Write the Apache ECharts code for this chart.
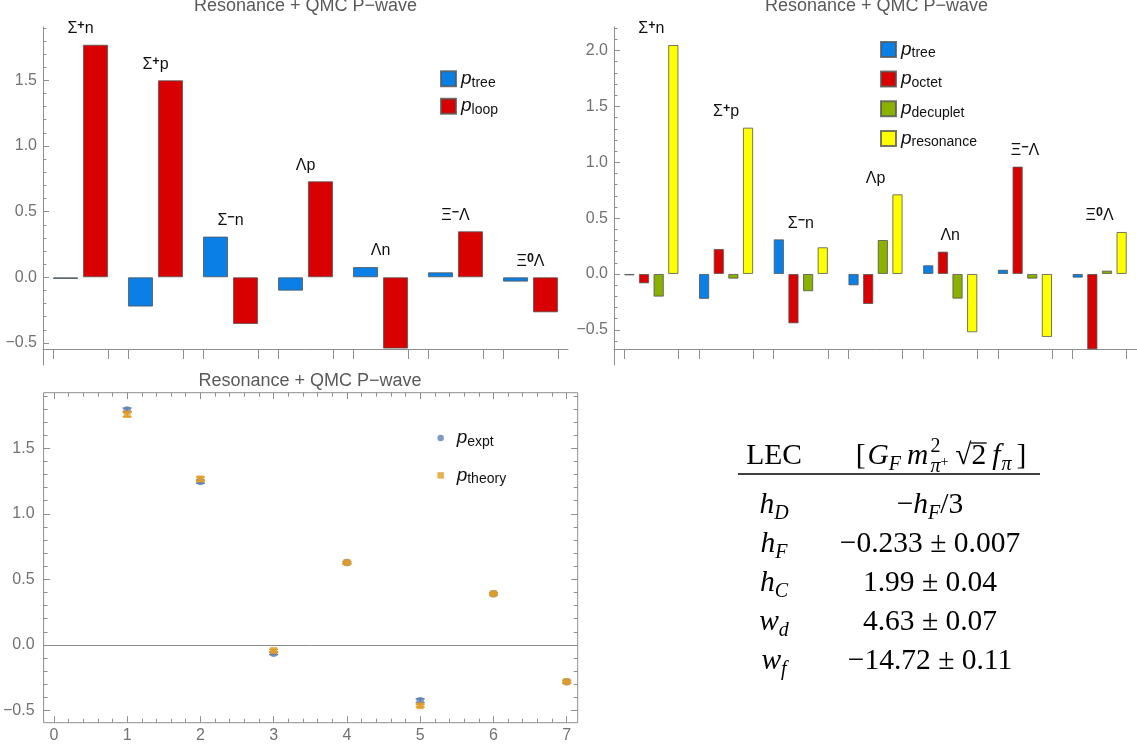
<!DOCTYPE html>
<html><head><meta charset="utf-8">
<script src="https://cdn.jsdelivr.net/npm/echarts@6/dist/echarts.min.js"></script>
<style>html,body{margin:0;padding:0;background:#fff}#c{width:1137px;height:751px}</style>
</head><body><div id="c"></div>
<script>
// ---------------- data ----------------
const categories = ['Σ+n', 'Σ+p', 'Σ−n', 'Λp', 'Λn', 'Ξ−Λ', 'Ξ0Λ'];
const categoryLabels = ['{m|Σ}{s|+}{m|n}', '{m|Σ}{s|+}{m|p}', '{m|Σ}{s|−}{m|n}', '{m|Λp}', '{m|Λn}', '{m|Ξ}{s|−}{m|Λ}', '{m|Ξ}{s|0}{m|Λ}'];
const pTree      = [-0.013, -0.223, 0.310, -0.102, 0.078, 0.038, -0.033];
const pLoop      = [1.771, 1.500, -0.356, 0.731, -0.543, 0.350, -0.267];
const pOctet     = [-0.084, 0.224, -0.442, -0.269, 0.200, 0.961, -0.675];
const pDecuplet  = [-0.203, -0.042, -0.155, 0.304, -0.221, -0.042, 0.030];
const pResonance = [2.050, 1.310, 0.239, 0.713, -0.522, -0.564, 0.376];
const decayIndex = [1, 2, 3, 4, 5, 6, 7];
const pExpt      = [1.792, 1.246, -0.064, 0.628, -0.425, 0.391, -0.280];
const pExptErr   = [0.015, 0.012, 0.010, 0.008, 0.015, 0.008, 0.010];
const pTheory    = [1.760, 1.266, -0.043, 0.628, -0.463, 0.391, -0.280];
const pTheoryErr = [0.020, 0.015, 0.010, 0.008, 0.010, 0.008, 0.008];
const yTicksA = [-0.5, 0, 0.5, 1, 1.5];
const yTicksB = [-0.5, 0, 0.5, 1, 1.5, 2];
const yTicksC = [-0.5, 0, 0.5, 1, 1.5];
const xTicksC = [0, 1, 2, 3, 4, 5, 6, 7];
const titleText = 'Resonance + QMC P−wave';
const lecHeader = ['LEC', '[G_F m_π]'];
const lecNames  = [['h', 'D'], ['h', 'F'], ['h', 'C'], ['w', 'd'], ['w', 'f']];
const lecValues = ['−h_{F}/3', '−0.233 ± 0.007', '1.99 ± 0.04', '4.63 ± 0.07', '−14.72 ± 0.11'];

// ---------------- style ----------------
const COL = {tree: '#0A80E6', loop: '#D80000', octet: '#D80000', decuplet: '#8AB000', resonance: '#FFFF00', expt: '#5E81B5', theory: '#E19C24'};
const EDGE = 'rgba(85,85,85,0.8)';
const AX = '#8f8f8f';
const LBL = '#727272';
const SANS = '"Liberation Sans", Arial, sans-serif';
const SERIF = '"Liberation Serif", "Times New Roman", serif';

// layout constants (pixel geometry converted to axis ranges)
const A = {left: 43, top: 27, width: 525, height: 338, yMin: -0.668, yMax: 1.906, axisAt: -0.546, catGap: 0.267, barGap: '20%'};
const B = {left: 614, top: 27, width: 525, height: 338, yMin: -0.815, yMax: 2.211, axisAt: -0.671, catGap: 0.275, barGap: '43%'};
const C = {left: 42.3, top: 392.7, width: 535.4, height: 330, xMin: -0.14, xMax: 7.15, yMin: -0.593, yMax: 1.924};

function fmt(v) { return (v < 0 ? '−' : '') + Math.abs(v).toFixed(1); }
function minorTicks(lo, hi, step, majorStep) {
  const out = [];
  for (let k = Math.ceil(lo / step - 1e-9); k * step <= hi + 1e-9; k++) {
    const v = +(k * step).toFixed(6);
    if (Math.abs(v / majorStep - Math.round(v / majorStep)) > 1e-6) out.push(v);
  }
  return out;
}
function edgeTicks(n, gap) {
  const out = []; const h = (1 - gap) / 2;
  for (let k = 0; k < n; k++) { out.push(k + 0.5 - h, k + 0.5 + h); }
  return out;
}

const legendSub = {treeA: 'tree', loop: 'loop', treeB: 'tree', octet: 'octet', decuplet: 'decuplet', resonance: 'resonance', expt: 'expt', theory: 'theory'};
const legendRich = {
  p: {fontSize: 19, fontStyle: 'italic', fontFamily: SANS, lineHeight: 22, color: '#111'},
  s: {fontSize: 14, fontFamily: SANS, lineHeight: 10, verticalAlign: 'bottom', color: '#111'}
};
const labelRich = {
  m: {fontSize: 16, fontFamily: SANS, lineHeight: 19, fill: '#111', color: '#111'},
  s: {fontSize: 12.5, fontFamily: SANS, lineHeight: 9, verticalAlign: 'top', fill: '#111', color: '#111', fontWeight: 'bold'}
};

function labelRender(params, api) {
  const p = api.coord([api.value(0), api.value(1)]);
  return {type: 'text', x: p[0], y: p[1] - 16, style: {text: categoryLabels[params.dataIndex], rich: labelRich, align: 'center', verticalAlign: 'middle', fill: '#111', fontSize: 16, fontFamily: SANS}};
}
function errRender(color) {
  return function (params, api) {
    const x = api.value(0), y = api.value(1), e = api.value(2);
    const hi = api.coord([x, y + e]), lo = api.coord([x, y - e]);
    const w = 4.5, st = {stroke: color, lineWidth: 1.5};
    return {type: 'group', children: [
      {type: 'line', shape: {x1: hi[0], y1: hi[1], x2: lo[0], y2: lo[1]}, style: st},
      {type: 'line', shape: {x1: hi[0] - w, y1: hi[1], x2: hi[0] + w, y2: hi[1]}, style: st},
      {type: 'line', shape: {x1: lo[0] - w, y1: lo[1], x2: lo[0] + w, y2: lo[1]}, style: st}
    ]};
  };
}

// ---------------- axes ----------------
const hidden = {show: false};
function catAxis(g) {
  return {type: 'category', gridIndex: g, data: categories, axisLine: {show: false, onZero: false}, axisTick: hidden, axisLabel: hidden, splitLine: hidden};
}
function edgeAxis(g, gap) {
  return {type: 'value', gridIndex: g, min: 0, max: 7, position: 'bottom', offset: -16,
    axisLine: {show: true, onZero: false, lineStyle: {color: AX, width: 1}},
    axisTick: {show: true, inside: false, length: 10, customValues: edgeTicks(7, gap), lineStyle: {color: AX}},
    axisLabel: hidden, splitLine: hidden};
}
function yMajor(g, cfg, ticks) {
  return {type: 'value', gridIndex: g, min: cfg.yMin, max: cfg.yMax, position: 'left',
    axisLine: {show: true, onZero: false, lineStyle: {color: AX, width: 1}},
    axisTick: {show: true, inside: true, length: 6, customValues: ticks, lineStyle: {color: AX}},
    axisLabel: {show: true, customValues: ticks, formatter: fmt, color: LBL, fontSize: 16, fontFamily: SANS, margin: 6},
    splitLine: hidden};
}
function yMinor(g, cfg, lo) {
  return {type: 'value', gridIndex: g, min: cfg.yMin, max: cfg.yMax, position: 'left',
    axisLine: {show: false, onZero: false},
    axisTick: {show: true, inside: true, length: 3.5, customValues: minorTicks(lo, cfg.yMax, 0.1, 0.5), lineStyle: {color: AX}},
    axisLabel: hidden, splitLine: hidden};
}
function cAxis(dim, pos, major, withLabels) {
  const isX = dim === 'x';
  const min = isX ? C.xMin : C.yMin, max = isX ? C.xMax : C.yMax;
  const ticks = major ? (isX ? xTicksC : yTicksC) : (isX ? minorTicks(min, max, 0.2, 1) : minorTicks(min, max, 0.1, 0.5));
  return {type: 'value', gridIndex: 2, min: min, max: max, position: pos,
    axisLine: {show: false, onZero: false},
    axisTick: {show: true, inside: true, length: major ? 6.5 : 4, customValues: ticks, lineStyle: {color: AX}},
    axisLabel: withLabels ? {show: true, customValues: ticks, formatter: isX ? (v => String(v)) : fmt, color: LBL, fontSize: 16, fontFamily: SANS, margin: isX ? 5 : 9} : hidden,
    splitLine: hidden};
}

const xAxes = [catAxis(0), edgeAxis(0, A.catGap), catAxis(1), edgeAxis(1, B.catGap),
  cAxis('x', 'bottom', true, true), cAxis('x', 'bottom', false, false), cAxis('x', 'top', true, false), cAxis('x', 'top', false, false)];
const yAxes = [yMajor(0, A, yTicksA), yMinor(0, A, A.axisAt), yMajor(1, B, yTicksB), yMinor(1, B, B.axisAt),
  cAxis('y', 'left', true, true), cAxis('y', 'left', false, false), cAxis('y', 'right', true, false), cAxis('y', 'right', false, false)];

// ---------------- series ----------------
function bar(name, data, color, xi, yi, cfg) {
  return {type: 'bar', name: name, xAxisIndex: xi, yAxisIndex: yi, data: data, barGap: cfg.barGap, barCategoryGap: (cfg.catGap * 100) + '%',
    itemStyle: {color: color, borderColor: EDGE, borderWidth: 1}, emphasis: {disabled: true}};
}
const maxA = categories.map((c, i) => [i, Math.max(0, pTree[i], pLoop[i])]);
const maxB = categories.map((c, i) => [i, Math.max(0, pTree[i], pOctet[i], pDecuplet[i], pResonance[i])]);

const series = [
  bar('treeA', pTree, COL.tree, 0, 0, A),
  bar('loop', pLoop, COL.loop, 0, 0, A),
  {type: 'custom', name: 'labelsA', xAxisIndex: 0, yAxisIndex: 0, data: maxA, renderItem: labelRender, z: 5, silent: true},
  bar('treeB', pTree, COL.tree, 2, 2, B),
  bar('octet', pOctet, COL.octet, 2, 2, B),
  bar('decuplet', pDecuplet, COL.decuplet, 2, 2, B),
  bar('resonance', pResonance, COL.resonance, 2, 2, B),
  {type: 'custom', name: 'labelsB', xAxisIndex: 2, yAxisIndex: 2, data: maxB, renderItem: labelRender, z: 5, silent: true},
  {type: 'custom', name: 'exptErr', xAxisIndex: 4, yAxisIndex: 4, data: decayIndex.map((x, i) => [x, pExpt[i], pExptErr[i]]), renderItem: errRender(COL.expt), z: 3},
  {type: 'scatter', name: 'expt', xAxisIndex: 4, yAxisIndex: 4, data: decayIndex.map((x, i) => [x, pExpt[i]]), symbol: 'circle', symbolSize: 7.5, itemStyle: {color: COL.expt}, z: 4,
    markLine: {silent: true, symbol: 'none', label: {show: false}, lineStyle: {color: '#8a8a8a', type: 'solid', width: 1}, data: [{yAxis: 0}], z: 1}},
  {type: 'custom', name: 'theoryErr', xAxisIndex: 4, yAxisIndex: 4, data: decayIndex.map((x, i) => [x, pTheory[i], pTheoryErr[i]]), renderItem: errRender(COL.theory), z: 5},
  {type: 'scatter', name: 'theory', xAxisIndex: 4, yAxisIndex: 4, data: decayIndex.map((x, i) => [x, pTheory[i]]), symbol: 'rect', symbolSize: 7, itemStyle: {color: COL.theory}, z: 6}
];

// ---------------- legends ----------------
const SQUARE = 'path://M0,0L10,0L10,10L0,10Z';
function legend(names, left, top, gap, icon, iw, ih) {
  return {orient: 'vertical', left: left, top: top, padding: 0, itemGap: gap, itemWidth: iw, itemHeight: ih, symbolKeepAspect: true,
    data: names.map(n => typeof n === 'string' ? {name: n, icon: icon} : n), selectedMode: false,
    formatter: n => '{p|p}{s|' + legendSub[n] + '}', textStyle: {rich: legendRich, color: '#111'}};
}
const legends = [
  legend(['treeA', 'loop'], 440, 69.3, 6.9, 'rect', 15, 15),
  legend(['treeB', 'octet', 'decuplet', 'resonance'], 880, 39.9, 9.2, 'rect', 15, 15),
  legend([{name: 'expt', icon: 'circle'}, {name: 'theory', icon: SQUARE}], 437.4, 428.6, 16.8, 'circle', 22, 6.5)
];

// ---------------- table (graphic text) ----------------
const mctx = document.createElement('canvas').getContext('2d');
function fontStr(p) { return (p.it ? 'italic ' : '') + p.s + 'px ' + SERIF; }
function layoutMath(pieces, cx, baseline) {
  let x = 0; const items = [];
  pieces.forEach(p => {
    mctx.font = fontStr(p);
    const w = mctx.measureText(p.t).width;
    const start = (p.at !== undefined) ? items[p.at].x : x + (p.k || 0);
    items.push({p: p, x: start, w: w});
    x = Math.max(x, start + w);
  });
  const left = cx - x / 2;
  const out = [];
  items.forEach(it => {
    const p = it.p;
    out.push({type: 'text', x: left + it.x, y: baseline + (p.dy || 0) - 0.338 * p.s,
      style: {text: p.t, font: fontStr(p), fill: '#000', align: 'left', verticalAlign: 'middle'}});
    if (p.over) {
      out.push({type: 'line', shape: {x1: left + it.x - 1, y1: baseline - p.over, x2: left + it.x + it.w + 0.5, y2: baseline - p.over}, style: {stroke: '#000', lineWidth: 1.3}});
    }
  });
  return out;
}
function parseVal(str, F, S) {
  const out = []; const re = /([A-Za-z])_\{([^}]*)\}/g; let last = 0, m;
  while ((m = re.exec(str))) {
    if (m.index > last) out.push({t: str.slice(last, m.index), s: F});
    out.push({t: m[1], s: F, it: true});
    out.push({t: m[2], s: S, it: true, dy: 6});
    last = re.lastIndex;
  }
  if (last < str.length) out.push({t: str.slice(last), s: F});
  return out;
}
const F = 29.5, S = 20;
const col1 = 774, col2 = 930, col2Head = 941;
const headBase = 466, rowBase0 = 515, rowStep = 39;
let table = [];
table = table.concat(layoutMath([{t: lecHeader[0], s: F}], col1, headBase));
table = table.concat(layoutMath([
  {t: '[', s: F}, {t: 'G', s: F, it: true, k: 2}, {t: 'F', s: S, it: true, dy: 6},
  {t: 'm', s: F, it: true, k: 6}, {t: 'π', s: S, it: true, dy: 8, k: 2}, {t: '+', s: 14, dy: 1},
  {t: '2', s: S, dy: -12, at: 4},
  {t: '√', s: F, k: 7}, {t: '2', s: F, over: 23},
  {t: 'f', s: F, it: true, k: 6}, {t: 'π', s: S, it: true, dy: 6, k: 1}, {t: ']', s: F, k: 5}
], col2Head, headBase));
table.push({type: 'line', shape: {x1: 738, y1: 474, x2: 1040, y2: 474}, style: {stroke: '#000', lineWidth: 1.6}});
lecNames.forEach((nm, i) => {
  const b = rowBase0 + i * rowStep;
  table = table.concat(layoutMath([{t: nm[0], s: F, it: true}, {t: nm[1], s: S, it: true, dy: 6}], col1, b));
  table = table.concat(layoutMath(parseVal(lecValues[i], F, S), col2, b));
});

const titles = [[305.5, 5.8], [876.5, 5.8], [310, 381.1]].map(p => ({type: 'text', x: p[0], y: p[1],
  style: {text: titleText, font: '18px ' + SANS, fill: '#5a5a5a', align: 'center', verticalAlign: 'middle'}}));

const chart = echarts.init(document.getElementById('c'));
chart.setOption({
  animation: false,
  backgroundColor: '#fff',
  textStyle: {fontFamily: SANS},
  grid: [
    {left: A.left, top: A.top, width: A.width, height: A.height, show: false},
    {left: B.left, top: B.top, width: B.width, height: B.height, show: false},
    {left: C.left, top: C.top, width: C.width, height: C.height, show: true, borderColor: AX, borderWidth: 1, backgroundColor: 'transparent'}
  ],
  xAxis: xAxes,
  yAxis: yAxes,
  legend: legends,
  series: series,
  graphic: titles.concat(table)
});
</script></body></html>
